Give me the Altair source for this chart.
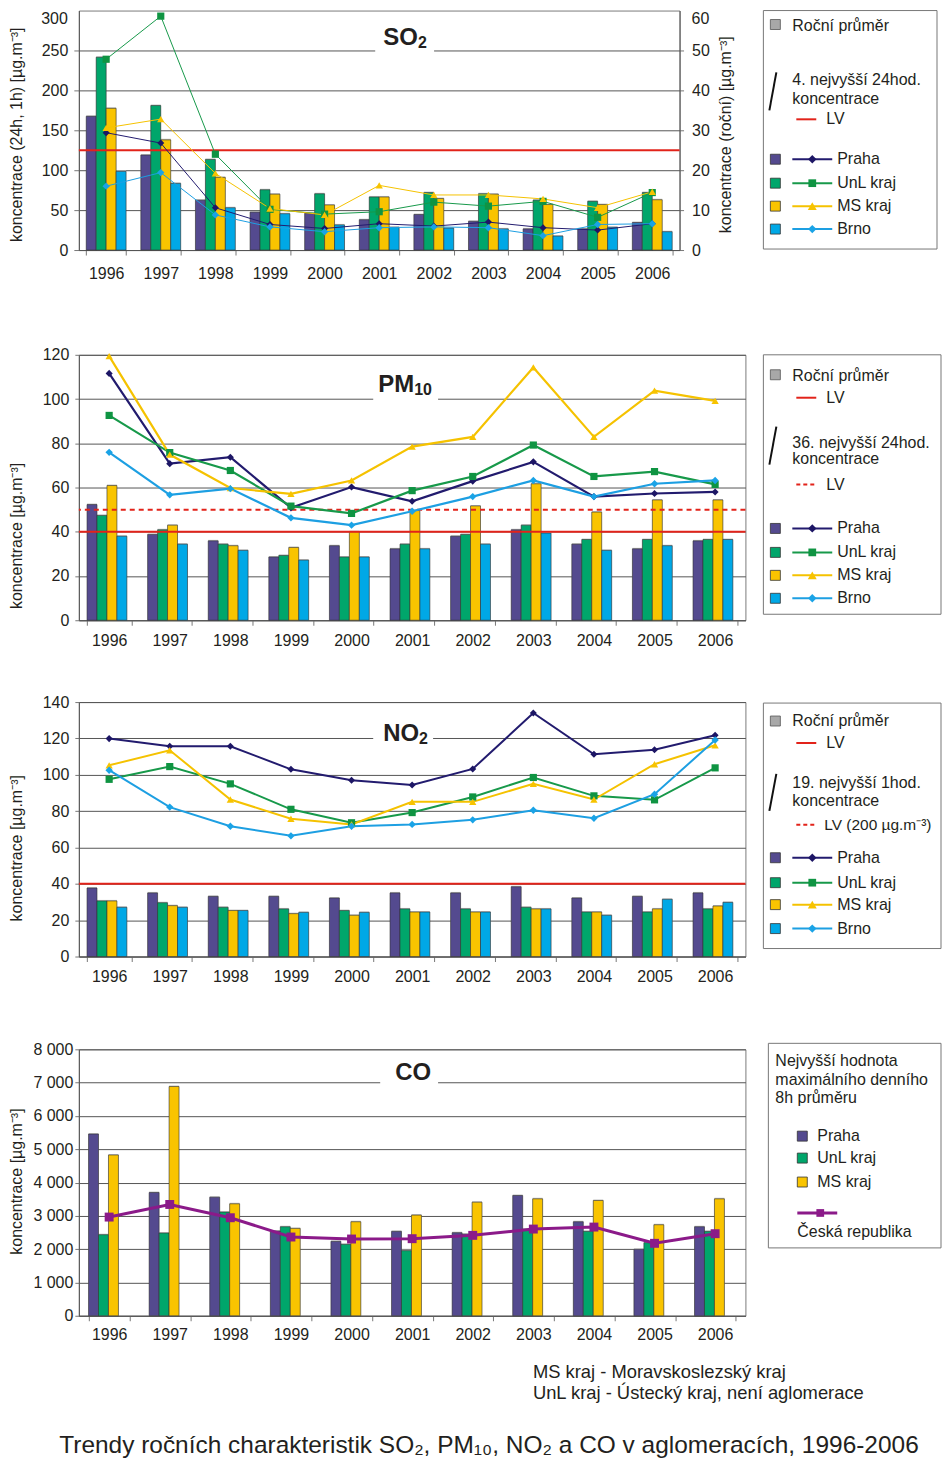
import altair as alt
import pandas as pd

FONT = "Liberation Sans"
TXT = "#231f20"
RED = "#e2231a"

years = [str(y) for y in range(1996, 2007)]
cities = ["Praha", "UnL kraj", "MS kraj", "Brno"]
co_cities = ["Praha", "UnL kraj", "MS kraj"]

# ---- SO2: annual mean (right axis) and 4th highest 24h concentration (left axis)
so2_annual = {
    "Praha":    [33.5, 23.8, 12.5, 9.5, 9.2, 7.6, 8.9, 7.2, 5.3, 5.3, 6.9],
    "UnL kraj": [48.3, 36.2, 22.7, 15.1, 14.1, 13.3, 14.4, 14.1, 12.5, 12.2, 14.4],
    "MS kraj":  [35.5, 27.6, 18.2, 14.0, 11.3, 13.3, 12.9, 14.0, 11.4, 11.4, 12.6],
    "Brno":     [19.7, 16.7, 10.6, 9.1, 6.3, 5.7, 5.5, 5.3, 3.5, 5.7, 4.6],
}
so2_4th = {
    "Praha":    [147, 134, 53, 32, 27, 33, 30, 35, 28, 25, 33],
    "UnL kraj": [239, 293, 120, 51, 45, 48, 60, 55, 61, 41, 72],
    "MS kraj":  [153, 164, 96, 52, 44, 81, 69, 69, 64, 53, 73],
    "Brno":     [80, 97, 44, 29, 23, 28, 29, 28, 18, 32, 33],
}
so2_lv = [125]

# ---- PM10
pm10_annual = {
    "Praha":    [52.3, 38.8, 35.9, 28.6, 33.7, 32.3, 38.0, 40.9, 34.4, 32.3, 35.9],
    "UnL kraj": [47.4, 40.9, 34.4, 29.3, 28.6, 34.4, 38.8, 43.0, 36.5, 36.5, 36.5],
    "MS kraj":  [60.9, 43.0, 33.7, 32.9, 40.0, 49.6, 51.7, 61.7, 48.9, 54.4, 54.4],
    "Brno":     [38.0, 34.4, 31.6, 27.2, 28.6, 32.3, 34.4, 39.4, 31.6, 33.7, 36.5],
}
pm10_36th = {
    "Praha":    [111.6, 70.8, 73.7, 50.8, 60.2, 53.8, 62.9, 71.6, 55.9, 57.3, 58.0],
    "UnL kraj": [92.6, 75.8, 67.7, 51.6, 48.3, 58.6, 65.0, 79.2, 65.0, 67.2, 61.4],
    "MS kraj":  [119.4, 74.9, 59.8, 57.1, 63.2, 78.5, 82.9, 114.3, 82.9, 103.8, 99.2],
    "Brno":     [75.9, 56.7, 59.5, 46.3, 43.0, 49.3, 55.9, 63.2, 55.9, 61.7, 63.2],
}
pm10_lv_annual = [40]
pm10_lv_24h = [50]

# ---- NO2
no2_annual = {
    "Praha":    [37.7, 35.0, 33.1, 33.1, 32.2, 35.0, 35.0, 38.4, 32.2, 33.1, 35.0],
    "UnL kraj": [30.6, 29.6, 27.1, 26.2, 25.3, 26.2, 26.2, 27.1, 24.5, 24.5, 26.2],
    "MS kraj":  [30.6, 28.0, 25.3, 23.6, 22.7, 24.5, 24.5, 26.2, 24.5, 26.2, 27.8],
    "Brno":     [27.1, 27.1, 25.3, 24.3, 24.3, 24.5, 24.5, 26.2, 22.7, 31.5, 29.8],
}
no2_19th = {
    "Praha":    [119.9, 115.7, 115.7, 103.0, 97.0, 94.4, 103.2, 134.0, 111.3, 113.8, 121.7],
    "UnL kraj": [97.5, 104.5, 95.0, 81.0, 73.6, 79.2, 87.8, 98.5, 88.4, 86.2, 103.8],
    "MS kraj":  [105.2, 113.5, 86.4, 75.8, 72.7, 85.1, 85.1, 95.0, 86.4, 105.8, 116.2],
    "Brno":     [102.5, 82.2, 71.7, 66.4, 71.7, 72.7, 75.2, 80.5, 76.1, 89.3, 119.1],
}
no2_lv = [40]

# ---- CO
co_max8h = {
    "Praha":    [5456, 3700, 3561, 2544, 2234, 2534, 2494, 3611, 2823, 1995, 2673],
    "UnL kraj": [2434, 2484, 3112, 2673, 2145, 1955, 2450, 2594, 2534, 2195, 2534],
    "MS kraj":  [4828, 6883, 3362, 2623, 2823, 3022, 3411, 3511, 3461, 2733, 3511],
}
co_cr = [2963, 3342, 2943, 2364, 2304, 2314, 2414, 2603, 2663, 2175, 2464]

bar_colors = ["#544a8f", "#00a66b", "#f9c400", "#00a8e6"]
line_colors = ["#221b6e", "#17994a", "#f5c200", "#1d9fe2"]
point_colors = ["#1d1665", "#0f9442", "#f7c300", "#1aa3e6"]
shapes = ["diamond", "square", "triangle-up", "diamond"]
CR_COLOR = "#8b1a89"

ytitle = "koncentrace [µg.m⁻³]"
so2_ytitle = "koncentrace (24h, 1h) [µg.m⁻³]"
so2_ytitle_r = "koncentrace (roční) [µg.m⁻³]"
footnotes = ["MS kraj - Moravskoslezský kraj", "UnL kraj - Ústecký kraj, není aglomerace"]
main_title = "Trendy ročních charakteristik SO₂, PM₁₀, NO₂ a CO v aglomeracích, 1996-2006"


def long(d, order):
    rows = []
    for c in order:
        for y, v in zip(years, d[c]):
            rows.append({"year": y, "city": c, "value": v})
    return pd.DataFrame(rows)


one = pd.DataFrame({"k": [0]})


def txt(s, x, y, size=16, weight="normal", align="left", baseline="middle", color=TXT):
    return alt.Chart(one).mark_text(text=s, fontSize=size, fontWeight=weight, align=align,
                                    baseline=baseline, color=color, font=FONT).encode(
        x=alt.value(x), y=alt.value(y))


def box(x, y, x2, y2, fill, stroke="#777", sw=1.0):
    return alt.Chart(one).mark_rect(fill=fill, stroke=stroke, strokeWidth=sw).encode(
        x=alt.value(x), x2=alt.value(x2), y=alt.value(y), y2=alt.value(y2))


def seg(x, y, x2, y2, color, sw=2.0, dash=None):
    kw = dict(color=color, strokeWidth=sw)
    if dash:
        kw["strokeDash"] = dash
    return alt.Chart(one).mark_rule(**kw).encode(
        x=alt.value(x), x2=alt.value(x2), y=alt.value(y), y2=alt.value(y2))


def sym(x, y, shape, color, size):
    return alt.Chart(one).mark_point(shape=shape, filled=True, opacity=1, color=color, size=size).encode(
        x=alt.value(x), y=alt.value(y))


def xenc(pin, lpad):
    ax = alt.Axis(title=None, labelFontSize=16, labelColor=TXT, labelAngle=0, tickBand="extent",
                  tickSize=5, tickColor="#777", domainColor="#555", labelPadding=lpad, grid=False)
    return alt.X("year:N", sort=years,
                 scale=alt.Scale(domain=years, paddingInner=pin, paddingOuter=pin / 2), axis=ax)


def yaxis(title, tx, ty, values, lpad, tick=4, fmt_expr=None, orient="left", grid=True):
    kw = dict(title=title, titleFontSize=16, titleFontWeight="normal", titleColor=TXT,
              titleX=tx, titleY=ty, titleAngle=270, titleBaseline="middle", titleAlign="center",
              values=values, labelFontSize=16, labelColor=TXT, tickSize=tick, tickColor="#777",
              labelPadding=lpad, domainColor="#555", grid=grid, gridColor="#555", gridWidth=1,
              orient=orient)
    if fmt_expr:
        kw["labelExpr"] = fmt_expr
    return alt.Axis(**kw)


def bars(df, order, colors, yscale, yax, pin, lpad):
    enc = dict(
        x=xenc(pin, lpad),
        xOffset=alt.XOffset("city:N", sort=order, scale=alt.Scale(domain=order)),
        y=alt.Y("value:Q", scale=yscale, axis=yax),
    )
    shadow = alt.Chart(df).mark_bar(color="#c4c4c4", xOffset=2.5, x2Offset=2.5, yOffset=-1).encode(**enc)
    main = alt.Chart(df).mark_bar(stroke="#333", strokeWidth=0.6).encode(
        fill=alt.Fill("city:N", sort=order, scale=alt.Scale(domain=order, range=colors), legend=None),
        **enc)
    return alt.layer(shadow, main)


def lines(df, yscale, yax, pin, lpad, sw, psizes):
    base = alt.Chart(df).encode(x=xenc(pin, lpad),
                                y=alt.Y("value:Q", scale=yscale, axis=yax))
    ln = base.mark_line(strokeWidth=sw).encode(
        stroke=alt.Stroke("city:N", scale=alt.Scale(domain=cities, range=line_colors), legend=None))
    pts = base.mark_point(filled=True, opacity=1).encode(
        color=alt.Color("city:N", scale=alt.Scale(domain=cities, range=point_colors), legend=None),
        shape=alt.Shape("city:N", scale=alt.Scale(domain=cities, range=shapes), legend=None),
        size=alt.Size("city:N", scale=alt.Scale(domain=cities, range=psizes), legend=None))
    return [ln, pts]


def lv(values, yscale, yax, dash=None):
    kw = dict(color=RED, strokeWidth=2)
    if dash:
        kw["strokeDash"] = dash
    return alt.Chart(pd.DataFrame({"value": values})).mark_rule(**kw).encode(
        y=alt.Y("value:Q", scale=yscale, axis=yax))


def top_label(value, yscale, yax, x, align):
    # top tick label placed flush with the plot top so nothing pokes above the page
    return alt.Chart(pd.DataFrame({"value": [value]})).mark_text(
        fontSize=16, color=TXT, align=align, baseline="top", font=FONT).encode(
        x=alt.value(x), y=alt.Y("value:Q", scale=yscale, axis=yax), text="value:Q")


def title_marks(main, sub, x, base, bx, by, main_w):
    out = [box(bx[0], by[0], bx[1], by[1], "white", stroke="white", sw=0),
           txt(main, x, base, size=24, weight="bold", baseline="alphabetic")]
    if sub:
        out.append(txt(sub, x + main_w, base + 3, size=16, weight="bold", baseline="alphabetic"))
    return out


# ================= SO2 =================
W1, H1 = 602, 240
PIN = 0.27
s_left = alt.Scale(domain=[0, 300])
s_right = alt.Scale(domain=[0, 60])
ax_left = yaxis(so2_ytitle, -62, 124, list(range(0, 251, 50)), 6, tick=5)
ax_right = yaxis(so2_ytitle_r, 46, 124, list(range(0, 51, 10)), 8, tick=4, orient="right", grid=False)
so2_right = alt.layer(
    bars(long(so2_annual, cities), cities, bar_colors, s_right, ax_right, PIN, 11),
    top_label(60, s_right, ax_right, W1 + 12, "left"),
)
so2_left = alt.layer(
    lv(so2_lv, s_left, ax_left),
    *lines(long(so2_4th, cities), s_left, ax_left, PIN, 11, 1, [50, 55, 75, 50]),
    top_label(300, s_left, ax_left, -11, "right"),
)
so2 = alt.layer(so2_right, so2_left, *title_marks("SO", "2", 305, 35, (297, 356), (6, 46), 35)
                ).resolve_scale(y="independent").properties(width=W1, height=H1)

# ================= PM10 =================
W, H2 = 668, 266
s_pm = alt.Scale(domain=[0, 120])
ax_pm = yaxis(ytitle, -62, 181, list(range(0, 121, 20)), 6)
pm = alt.layer(
    bars(long(pm10_annual, cities), cities, bar_colors, s_pm, ax_pm, PIN, 7),
    lv(pm10_lv_annual, s_pm, ax_pm), lv(pm10_lv_24h, s_pm, ax_pm, dash=[5, 4]),
    *lines(long(pm10_36th, cities), s_pm, ax_pm, PIN, 7, 2.2, [70, 65, 80, 70]),
    *title_marks("PM", "10", 300, 37, (295, 360), (10, 50), 36),
).properties(width=W, height=H2)

# ================= NO2 =================
H3 = 255
s_no = alt.Scale(domain=[0, 140])
ax_no = yaxis(ytitle, -62, 146, list(range(0, 141, 20)), 6)
no2 = alt.layer(
    bars(long(no2_annual, cities), cities, bar_colors, s_no, ax_no, PIN, 7),
    lv(no2_lv, s_no, ax_no),
    *lines(long(no2_19th, cities), s_no, ax_no, PIN, 7, 2, [70, 65, 80, 70]),
    *title_marks("NO", "2", 305, 39, (295, 355), (8, 44), 36),
).properties(width=W, height=H3)

# ================= CO =================
H4 = 267
PIN_CO = 0.32
s_co = alt.Scale(domain=[0, 8000])
ax_co = yaxis(ytitle, -62, 132, list(range(0, 8001, 1000)), 2,
              fmt_expr="replace(format(datum.value, ','), ',', ' ')")
cr_df = pd.DataFrame({"year": years, "value": co_cr})
cr_base = alt.Chart(cr_df).encode(x=xenc(PIN_CO, 6), y=alt.Y("value:Q", scale=s_co, axis=ax_co))
co = alt.layer(
    bars(long(co_max8h, co_cities), co_cities, bar_colors[:3], s_co, ax_co, PIN_CO, 6),
    cr_base.mark_line(color=CR_COLOR, strokeWidth=3),
    cr_base.mark_point(shape="square", filled=True, opacity=1, color=CR_COLOR, size=80),
    *title_marks("CO", None, 317, 31, (302, 360), (4, 44), 0),
    txt(footnotes[0], 455, 323, size=18.4),
    txt(footnotes[1], 455, 344, size=18.4),
    txt(main_title, 411, 398, size=24.5, align="center"),
).properties(width=W, height=H4)


# ================= legends =================
def city_rows(ys, line_w=2):
    out = []
    for i, (c, y) in enumerate(zip(cities, ys)):
        out += [box(7, y - 5, 17, y + 5, bar_colors[i], stroke="#333", sw=0.8),
                seg(29, y, 69, y, line_colors[i], line_w),
                sym(49, y, shapes[i], point_colors[i], [70, 60, 80, 70][i]),
                txt(c, 74, y)]
    return out


LW = 176
NOVIEW = alt.ViewBackground(strokeOpacity=0)
leg_so2 = ["Roční průměr", "4. nejvyšší 24hod.", "koncentrace", "LV"]
leg_pm = ["Roční průměr", "LV", "36. nejvyšší 24hod.", "koncentrace", "LV"]
leg_no = ["Roční průměr", "LV", "19. nejvyšší 1hod.", "koncentrace", "LV (200 µg.m⁻³)"]
leg_co = ["Nejvyšší hodnota", "maximálního denního", "8h průměru", "Česká republika"]

leg1 = alt.layer(
    box(0, 0, 174, 239, "white"),
    box(7, 9, 17, 19, "#a8a8a8", stroke="#555", sw=0.8), txt(leg_so2[0], 29, 15),
    seg(13, 62, 6, 100, "#111", 2),
    txt(leg_so2[1], 29, 70), txt(leg_so2[2], 29, 89),
    seg(33, 109, 53, 109, RED, 2), txt(leg_so2[3], 63, 109),
    *city_rows([149, 173, 196, 219]),
).properties(width=LW, height=263, view=NOVIEW)

leg2 = alt.layer(
    box(0, 0, 178, 260, "white"),
    box(7, 15, 17, 25, "#a8a8a8", stroke="#555", sw=0.8), txt(leg_pm[0], 29, 21),
    seg(33, 43, 53, 43, RED, 2), txt(leg_pm[1], 63, 43),
    seg(13, 72, 6, 110, "#111", 2),
    txt(leg_pm[2], 29, 88), txt(leg_pm[3], 29, 104),
    seg(33, 130, 53, 130, RED, 2, dash=[4, 3]), txt(leg_pm[4], 63, 130),
    *city_rows([174, 198, 221, 244]),
).properties(width=LW, height=266, view=NOVIEW)

leg3 = alt.layer(
    box(0, 1, 178, 247, "white"),
    box(7, 14, 17, 24, "#a8a8a8", stroke="#555", sw=0.8), txt(leg_no[0], 29, 19),
    seg(33, 41, 53, 41, RED, 2), txt(leg_no[1], 63, 41),
    seg(13, 72, 6, 109, "#111", 2),
    txt(leg_no[2], 29, 81), txt(leg_no[3], 29, 99),
    seg(33, 123, 53, 123, RED, 2, dash=[4, 3]), txt(leg_no[4], 61, 123, size=15.5),
    *city_rows([156, 181, 203, 227]),
).properties(width=LW, height=266, view=NOVIEW)

co_rows = []
for i, (c, y) in enumerate(zip(co_cities, [87, 109, 133])):
    co_rows += [box(34, y - 5, 44, y + 5, bar_colors[i], stroke="#333", sw=0.8), txt(c, 54, y)]
leg4 = alt.layer(
    box(5, -6, 178, 199, "white"),
    txt(leg_co[0], 12, 12), txt(leg_co[1], 12, 31), txt(leg_co[2], 12, 49),
    *co_rows,
    seg(34, 164, 74, 164, CR_COLOR, 3), sym(57, 164, "square", CR_COLOR, 60),
    txt(leg_co[3], 34, 183),
).properties(width=LW, height=200, view=NOVIEW)

chart = alt.concat(
    so2, leg1, pm, leg2, no2, leg3, co, leg4,
    columns=2, spacing={"row": 82, "column": 18}, bounds="flush", align="each",
).properties(padding=0, background="white").configure(font=FONT).configure_view(
    stroke="#7a7a7a"
).configure_axis(labelFont=FONT, titleFont=FONT)

chart.save("out.html", embed_options={"renderer": "svg", "actions": False})
